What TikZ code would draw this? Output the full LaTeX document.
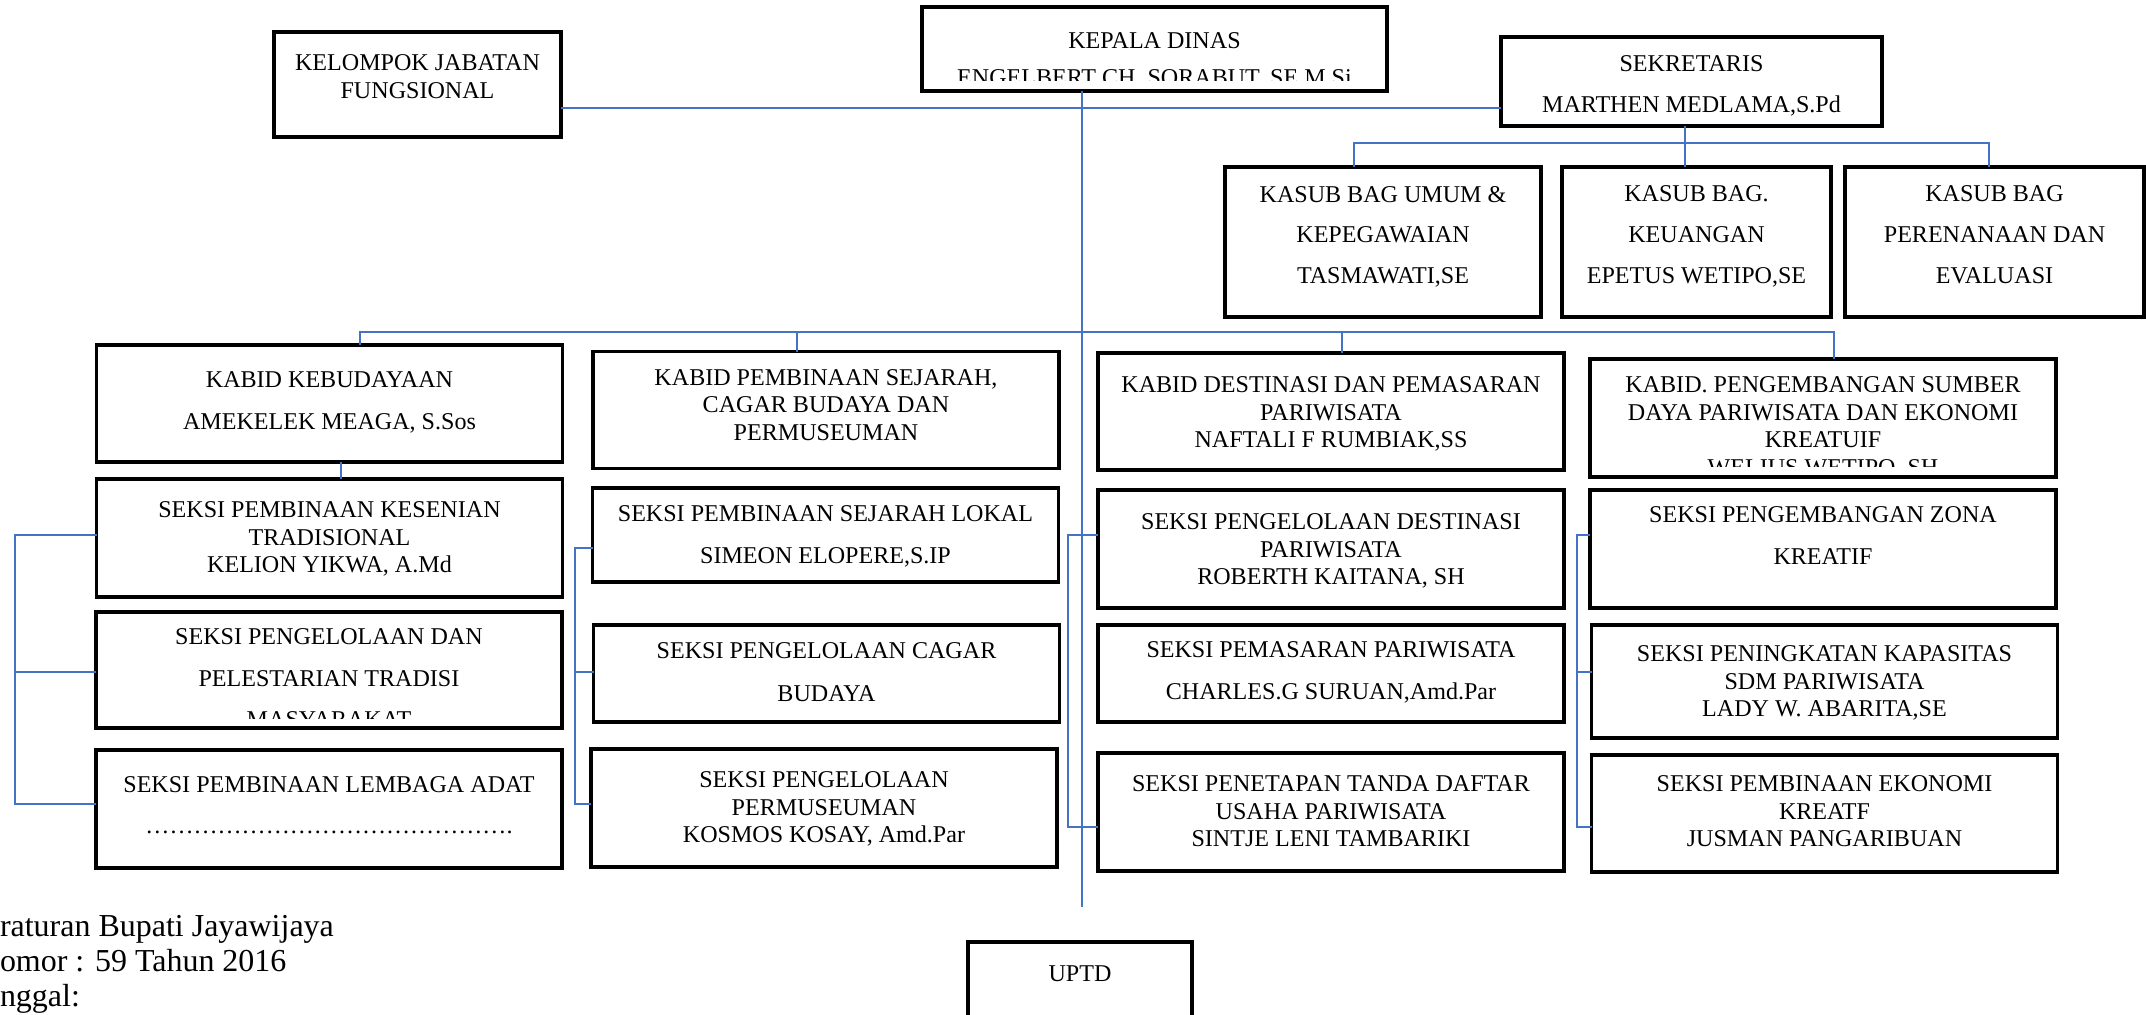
\documentclass[tikz,border=0pt]{standalone}
\usepackage{fontspec}
\setmainfont{Liberation Serif}
\usepackage{xcolor}
\definecolor{linkblue}{RGB}{68,114,196}
\usetikzlibrary{positioning}

\begin{document}
\begin{tikzpicture}[x=0.02cm,y=-0.02cm,every node/.style={outer sep=0pt},
    box/.style={draw,line width=1.8pt,inner sep=0pt},
    txt/.style={inner sep=0pt,align=center,
      font=\fontsize{13.7}{15.6}\selectfont},
    note/.style={inner sep=0pt,anchor=north west,align=left,
      font=\fontsize{18.2}{19.9}\selectfont},
    link/.style={draw=linkblue,line width=0.8pt},
    kabid/.style={box,minimum width=9.32cm,minimum height=2.34cm},
    seksi/.style={box,minimum width=9.32cm,minimum height=2.36cm}]
  \useasboundingbox (0,0) rectangle (2146,1014);

  % top row
  \node[box,minimum width=5.74cm,minimum height=2.1cm] (kjf) at (417.5,84.5) {};
  \node[txt,below=0.46cm of kjf.north] (t-kjf) {KELOMPOK JABATAN\\FUNGSIONAL};
  \node[box,minimum width=9.3cm,minimum height=1.68cm] (kadis) at (1154.5,49) {};
  \begin{scope}
    \clip (kadis.north west) rectangle ([yshift=0.2cm]kadis.south east);
    \node[txt,below=0.52cm of kadis.north] (t-kadis)
      {KEPALA DINAS\\[5.4pt]ENGELBERT CH. SORABUT, SE.M.Si};
  \end{scope}
  \node[box,minimum width=7.62cm,minimum height=1.78cm] (sekr) at (1691.5,81.5) {};
  \node[txt,below=0.38cm of sekr.north] (t-sekr) {SEKRETARIS\\[7.3pt]MARTHEN MEDLAMA,S.Pd};

  % kasub bag
  \node[box,minimum width=6.32cm,minimum height=3cm] (sub1) at (1383,242) {};
  \node[box,minimum width=5.38cm,minimum height=3cm] (sub2) at (1696.5,242) {};
  \node[box,minimum width=5.98cm,minimum height=3cm] (sub3) at (1994.5,242) {};
  \node[txt,below=0.38cm of sub1.north] (t-sub1)
    {KASUB BAG UMUM \&\\[7.6pt]KEPEGAWAIAN\\[7.6pt]TASMAWATI,SE};
  \node[txt,below=0.38cm of sub2.north] (t-sub2)
    {KASUB BAG.\\[7.6pt]KEUANGAN\\[7.6pt]EPETUS WETIPO,SE};
  \node[txt,below=0.38cm of sub3.north] (t-sub3)
    {KASUB BAG\\[7.6pt]PERENANAAN DAN\\[7.6pt]EVALUASI};

  % kabid
  \node[kabid] (kb1) at (329.5,403.5) {};
  \node[kabid] (kb2) at (826,410) {};
  \node[kabid] (kb3) at (1331,411.5) {};
  \node[kabid,minimum height=2.36cm] (kb4) at (1823,418) {};
  \node[txt,below=0.54cm of kb1.north] (t-kb1)
    {KABID KEBUDAYAAN\\[8pt]AMEKELEK MEAGA, S.Sos};
  \node[txt,below=0.36cm of kb2.north] (t-kb2)
    {KABID PEMBINAAN SEJARAH,\\CAGAR BUDAYA DAN\\PERMUSEUMAN};
  \node[txt,below=0.48cm of kb3.north] (t-kb3)
    {KABID DESTINASI DAN PEMASARAN\\PARIWISATA\\NAFTALI F RUMBIAK,SS};
  \begin{scope}
    \clip (kb4.north west) rectangle ([yshift=0.2cm]kb4.south east);
    \node[txt,below=0.36cm of kb4.north] (t-kb4)
      {KABID. PENGEMBANGAN SUMBER\\DAYA PARIWISATA DAN EKONOMI\\KREATUIF\\WELIUS WETIPO, SH};
  \end{scope}

  % seksi
  \node[seksi] (s11) at (329.5,538) {};
  \node[seksi,minimum height=2.32cm] (s12) at (329,670) {};
  \node[seksi] (s13) at (329,809) {};
  \node[seksi,minimum height=1.88cm] (s21) at (825.5,535) {};
  \node[seksi,minimum height=1.94cm] (s22) at (826.5,673.5) {};
  \node[seksi] (s23) at (824,808) {};
  \node[seksi] (s31) at (1331,549) {};
  \node[seksi,minimum height=1.94cm] (s32) at (1331,673.5) {};
  \node[seksi] (s33) at (1331,812) {};
  \node[seksi] (s41) at (1823,549) {};
  \node[seksi,minimum height=2.26cm] (s42) at (1824.5,681.5) {};
  \node[seksi,minimum height=2.34cm] (s43) at (1824.5,813.5) {};

  \node[txt,below=0.46cm of s11.north] (t-s11)
    {SEKSI PEMBINAAN KESENIAN\\TRADISIONAL\\KELION YIKWA, A.Md};
  \begin{scope}
    \clip (s12.north west) rectangle ([yshift=0.2cm]s12.south east);
    \node[txt,below=0.34cm of s12.north] (t-s12)
      {SEKSI PENGELOLAAN DAN\\[8pt]PELESTARIAN TRADISI\\[8pt]MASYARAKAT};
  \end{scope}
  \node[txt,below=0.54cm of s13.north] (t-s13)
    {SEKSI PEMBINAAN LEMBAGA ADAT\\[7.5pt]{…}{…}{…}{…}{…}{…}{…}{…}{…}{…}{…}{…}{…}{…}{…}.};
  \node[txt,below=0.36cm of s21.north] (t-s21)
    {SEKSI PEMBINAAN SEJARAH LOKAL\\[8pt]SIMEON ELOPERE,S.IP};
  \node[txt,below=0.36cm of s22.north] (t-s22)
    {SEKSI PENGELOLAAN CAGAR\\[8.5pt]BUDAYA};
  \node[txt,below=0.46cm of s23.north] (t-s23)
    {SEKSI PENGELOLAAN\\PERMUSEUMAN\\KOSMOS KOSAY, Amd.Par};
  \node[txt,below=0.48cm of s31.north] (t-s31)
    {SEKSI PENGELOLAAN DESTINASI\\PARIWISATA\\ROBERTH KAITANA, SH};
  \node[txt,below=0.34cm of s32.north] (t-s32)
    {SEKSI PEMASARAN PARIWISATA\\[8pt]CHARLES.G SURUAN,Amd.Par};
  \node[txt,below=0.46cm of s33.north] (t-s33)
    {SEKSI PENETAPAN TANDA DAFTAR\\USAHA PARIWISATA\\SINTJE LENI TAMBARIKI};
  \node[txt,below=0.34cm of s41.north] (t-s41)
    {SEKSI PENGEMBANGAN ZONA\\[8pt]KREATIF};
  \node[txt,below=0.42cm of s42.north] (t-s42)
    {SEKSI PENINGKATAN KAPASITAS\\SDM PARIWISATA\\LADY W. ABARITA,SE};
  \node[txt,below=0.42cm of s43.north] (t-s43)
    {SEKSI PEMBINAAN EKONOMI\\KREATF\\JUSMAN PANGARIBUAN};

  \node[box,minimum width=4.48cm,minimum height=1.96cm] (uptd) at (1080,991) {};
  \node[txt,below=0.48cm of uptd.north] (t-uptd) {UPTD};
  \node[note] (perbup) at (0,915)
    {raturan Bupati Jayawijaya\\omor : 59 Tahun 2016\\nggal:};

  % connectors
  \coordinate (bus) at (1082,108);
  \coordinate (kbus) at (1082,332);
  \coordinate (spine) at (1082,907);
  \draw[link] (kjf.east|-bus) -- (sekr.west|-bus);
  \draw[link] (kadis.south-|spine) -- (spine);

  \coordinate (t2) at ([xshift=-0.23cm]sub2.north);
  \draw[link] (t2) -- (t2|-sekr.south);
  \draw[link] ([xshift=-0.58cm]sub1.north) -- ++(0,-24)
    -| ([xshift=-0.11cm]sub3.north);

  \draw[link] ([xshift=0.61cm]kb1.north) |- (kbus) -| ([xshift=0.22cm]kb4.north);
  \coordinate (t5) at ([xshift=-0.58cm]kb2.north);
  \coordinate (t6) at ([xshift=0.22cm]kb3.north);
  \draw[link] (t5) -- (t5|-kbus);
  \draw[link] (t6) -- (t6|-kbus);
  \draw[link] ([xshift=0.23cm]kb1.south) -- ([xshift=0.23cm]s11.north);

  \foreach \c/\bx/\ya/\yb in {1/15/535/804,2/575/548/804,3/1068/535/827,4/1577/535/827}
  {
    \draw[link] (s\c1.west|-0,\ya) -| (\bx,\yb) -- (s\c3.west|-0,\yb);
  }
  \foreach \c/\bx in {1/15,2/575,4/1577}
    \draw[link] (\bx,672) -- (s\c2.west|-0,672);
\end{tikzpicture}
\end{document}
